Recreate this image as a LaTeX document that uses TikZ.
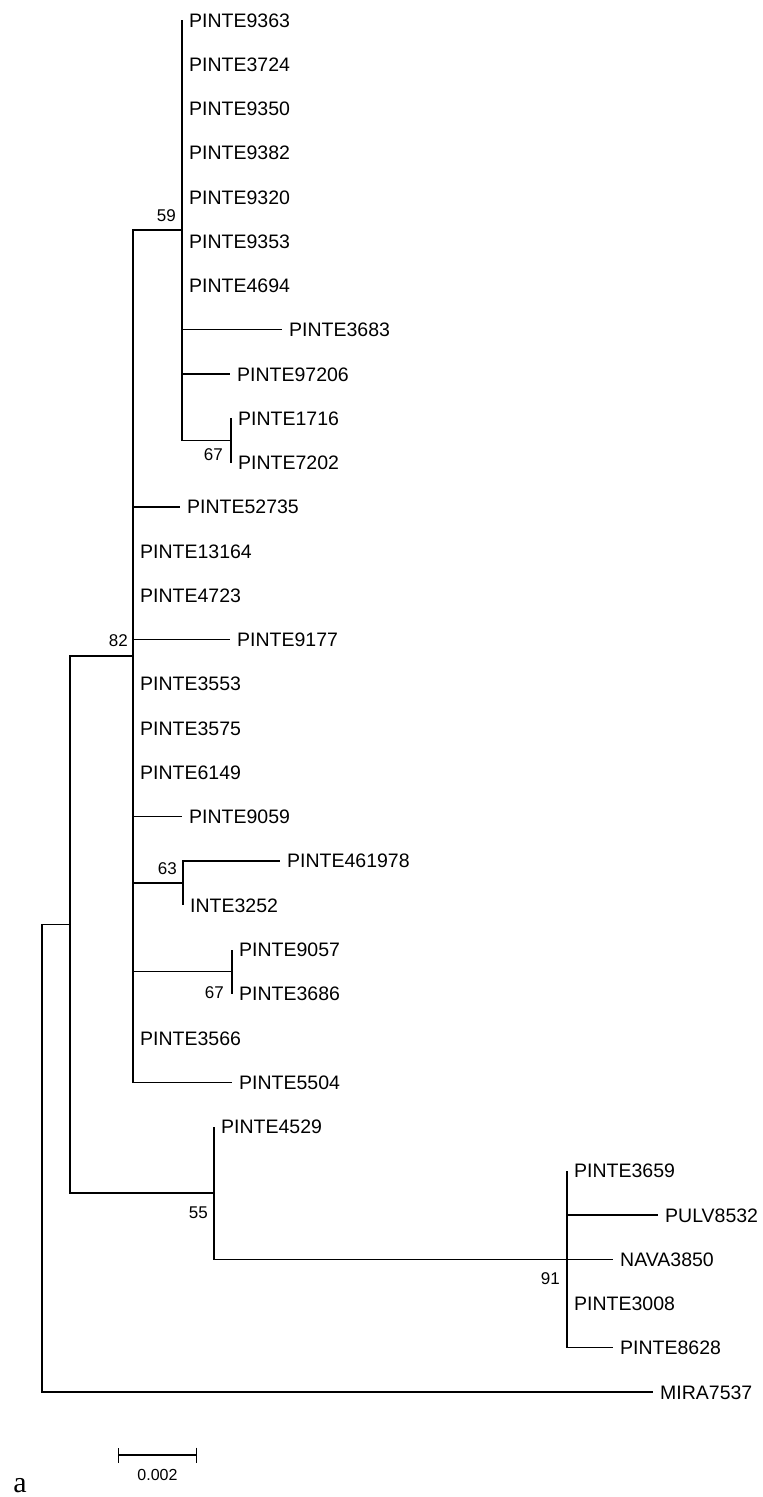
\documentclass[tikz,border=0pt]{standalone}
\usepackage{fontspec}
\setmainfont{Liberation Sans}
\newfontfamily\panelfont{Liberation Serif}
\usetikzlibrary{arrows.meta}

\begin{document}
\begin{tikzpicture}[x=1pt, y=-1pt,
    branch/.style={line width=1.3pt},
    leaf/.style={anchor=west, inner xsep=7pt, inner ysep=0pt, text height=14pt,
                 text depth=0pt, font=\fontsize{19.5}{21}\selectfont},
    boot/.style={inner sep=0pt, font=\fontsize{17}{19}\selectfont},
    scalebar/.style={line width=1.3pt, {Bar[width=15pt]}-{Bar[width=15pt]}}
]
\useasboundingbox (0,0) rectangle (763,1497);

% inner nodes
\coordinate (root) at (42,1158);
\coordinate (nA) at (70,924.5);
\coordinate (n82) at (133,656);
\coordinate (n59) at (182,230);
\coordinate (n67a) at (231,440.5);
\coordinate (n63) at (183,883);
\coordinate (n67b) at (232,971.6);
\coordinate (n55) at (214,1192.9);
\coordinate (n91) at (567,1259.3);

% leaves
\node[leaf] (l9363) at (182,20) {PINTE9363};
\node[leaf] (l3724) at (182,64.3) {PINTE3724};
\node[leaf] (l9350) at (182,108.5) {PINTE9350};
\node[leaf] (l9382) at (182,152.8) {PINTE9382};
\node[leaf] (l9320) at (182,197) {PINTE9320};
\node[leaf] (l9353) at (182,241.3) {PINTE9353};
\node[leaf] (l4694) at (182,285.6) {PINTE4694};
\node[leaf] (l3683) at (282,329.8) {PINTE3683};
\node[leaf] (l97206) at (230,374.1) {PINTE97206};
\node[leaf] (l1716) at (231,418.3) {PINTE1716};
\node[leaf] (l7202) at (231,462.6) {PINTE7202};
\node[leaf] (l52735) at (180,506.9) {PINTE52735};
\node[leaf] (l13164) at (133,551.1) {PINTE13164};
\node[leaf] (l4723) at (133,595.4) {PINTE4723};
\node[leaf] (l9177) at (230,639.6) {PINTE9177};
\node[leaf] (l3553) at (133,683.9) {PINTE3553};
\node[leaf] (l3575) at (133,728.2) {PINTE3575};
\node[leaf] (l6149) at (133,772.4) {PINTE6149};
\node[leaf] (l9059) at (182,816.7) {PINTE9059};
\node[leaf] (l461978) at (280,860.9) {PINTE461978};
\node[leaf] (l3252) at (183,905.2) {INTE3252};
\node[leaf] (l9057) at (232,949.5) {PINTE9057};
\node[leaf] (l3686) at (232,993.7) {PINTE3686};
\node[leaf] (l3566) at (133,1038) {PINTE3566};
\node[leaf] (l5504) at (232,1082.2) {PINTE5504};
\node[leaf] (l4529) at (214,1126.5) {PINTE4529};
\node[leaf] (l3659) at (567,1170.8) {PINTE3659};
\node[leaf] (l8532) at (658,1215) {PULV8532};
\node[leaf] (l3850) at (613,1259.3) {NAVA3850};
\node[leaf] (l3008) at (567,1303.5) {PINTE3008};
\node[leaf] (l8628) at (613,1347.8) {PINTE8628};
\node[leaf] (l7537) at (653,1392.1) {MIRA7537};

% branches
\draw[branch] (root) |- (nA);
\draw[branch] (root) |- (l7537.west);
\draw[branch] (nA) |- (n82);
\draw[branch] (nA) |- (n55);

\draw[branch] (n82) |- (n59);
\draw[branch] (n82) |- (l5504.west);
\foreach \c in {l52735,l13164,l4723,l9177,l3553,l3575,l6149,l9059,n63,n67b,l3566}
  \draw[branch] (n82) |- (\c.west);

\draw[branch] (n59) |- (l9363.west);
\draw[branch] (n59) |- (n67a);
\foreach \c in {l3724,l9350,l9382,l9320,l9353,l4694,l3683,l97206}
  \draw[branch] (n59) |- (\c.west);

\draw[branch] (n67a) |- (l1716.west);
\draw[branch] (n67a) |- (l7202.west);
\draw[branch] (n63) |- (l461978.west);
\draw[branch] (n63) |- (l3252.west);
\draw[branch] (n67b) |- (l9057.west);
\draw[branch] (n67b) |- (l3686.west);

\draw[branch] (n55) |- (l4529.west);
\draw[branch] (n55) |- (n91);
\draw[branch] (n91) |- (l3659.west);
\draw[branch] (n91) |- (l8628.west);
\draw[branch] (n91) |- (l8532.west);
\draw[branch] (n91) |- (l3850.west);
\draw[branch] (n91) |- (l3008.west);

% bootstrap values
\node[boot, anchor=south east] (b82) at ([xshift=-5pt,yshift=9pt]n82) {82};
\node[boot, anchor=south east] (b59) at ([xshift=-6pt,yshift=8pt]n59) {59};
\node[boot, anchor=north east] (b67a) at ([xshift=-8pt,yshift=-8pt]n67a) {67};
\node[boot, anchor=south east] (b63) at ([xshift=-6pt,yshift=8pt]n63) {63};
\node[boot, anchor=north east] (b67b) at ([xshift=-8pt,yshift=-15pt]n67b) {67};
\node[boot, anchor=north east] (b55) at ([xshift=-6pt,yshift=-14pt]n55) {55};
\node[boot, anchor=north east] (b91) at ([xshift=-7pt,yshift=-13pt]n91) {91};

% scale bar
\coordinate (sbl) at (118,1455);
\coordinate (sbr) at (197,1455);
\draw[scalebar] (sbl) -- (sbr);
\node[boot, font=\fontsize{16}{18}\selectfont] (sblab) at (157.5,1475) {0.002};

\node[inner sep=0pt, anchor=base, font=\panelfont\fontsize{30}{32}\selectfont] (panel) at (20,1492) {a};
\end{tikzpicture}
\end{document}
